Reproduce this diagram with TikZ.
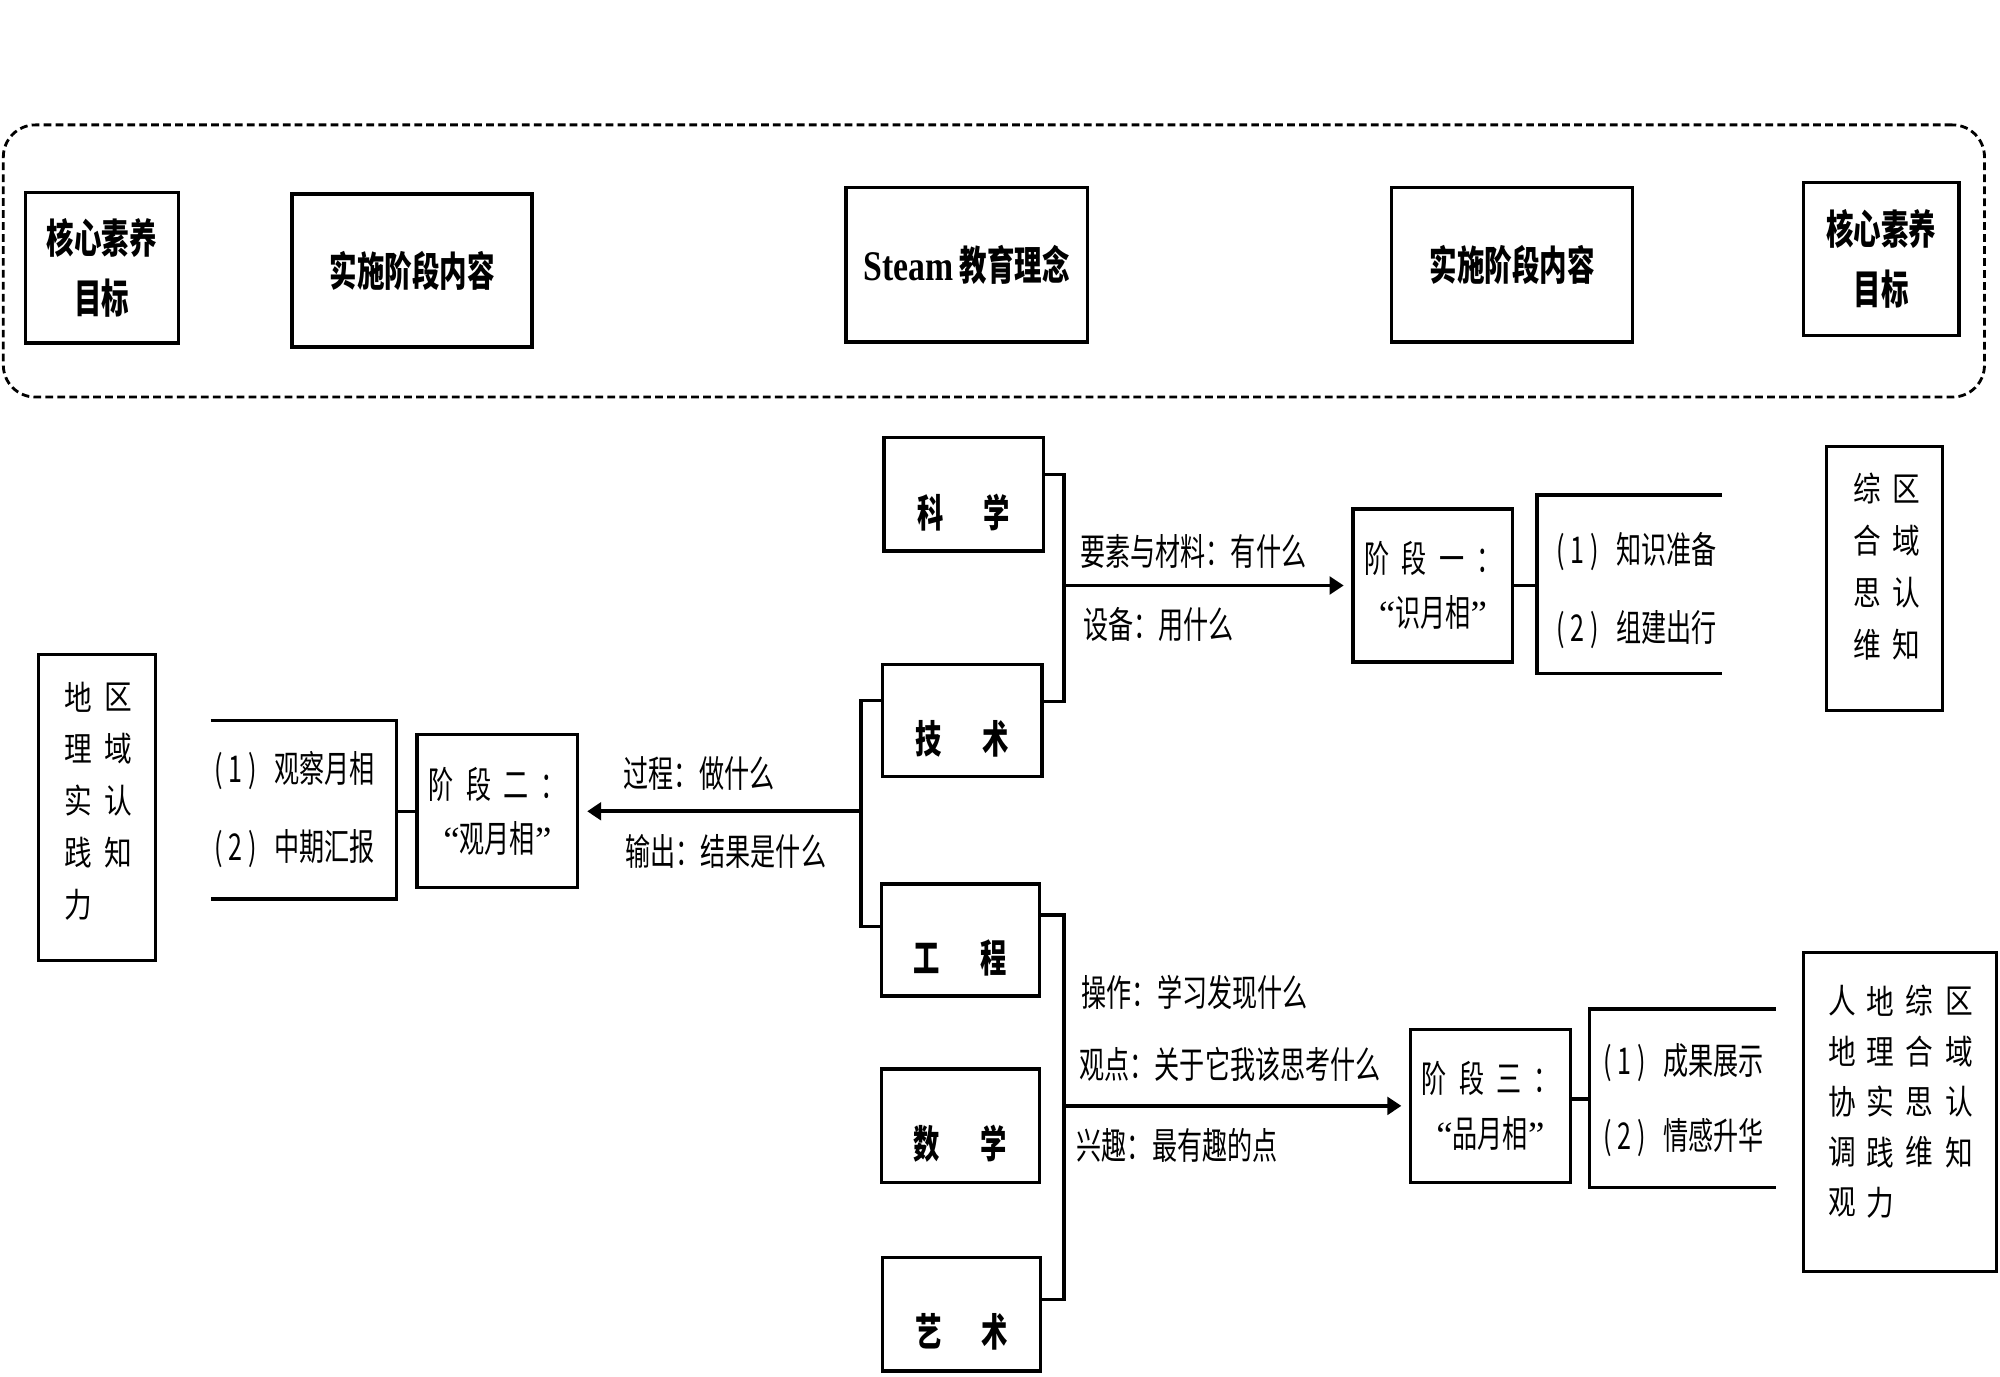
\documentclass[tikz,border=0pt]{standalone}
\usepackage{fontspec}
\newfontfamily\cjk[FakeStretch=0.68]{Noto Sans CJK SC}
\newfontfamily\cjkv[FakeStretch=0.82]{Noto Sans CJK SC}
\newfontfamily\lat{Liberation Serif}
\newfontfamily\latc[FakeStretch=0.8]{Liberation Serif}
\newcommand\itm[1]{(\hspace{1.6pt}#1\hspace{1.6pt})\hspace{5pt}}
\usetikzlibrary{arrows.meta,calc}
\begin{document}
\begin{tikzpicture}[x=0.01cm,y=-0.01cm,
  box/.style={draw,line width=0.9pt,inner sep=0pt,align=center},
  topt/.style={font={\cjk\bfseries\fontsize{11.5pt}{17pt}\selectfont}},
  subj/.style={inner sep=0pt,font={\cjk\bfseries\fontsize{11pt}{13pt}\selectfont}},
  stg/.style={font={\cjk\fontsize{10.5pt}{15.5pt}\selectfont}},
  lbl/.style={anchor=west,inner sep=0pt,font={\cjk\fontsize{10.5pt}{12pt}\selectfont}},
  vch/.style={inner sep=0pt,font={\cjkv\fontsize{9.6pt}{11pt}\selectfont}},
  conn/.style={line width=1pt},
  arr/.style={line width=1.1pt,-{Triangle[length=4pt,width=5pt]},shorten >=2.2pt},
  dashbox/.style={draw,line width=0.8pt,dash pattern=on 2.2pt off 1.2pt,rounded corners=0.32cm,inner sep=0pt}
]
\useasboundingbox (0,0) rectangle (2000,1377);

% top frame
\node[dashbox,minimum width=19.80cm,minimum height=2.72cm] (frame) at (993.9,261) {};
\node[box,topt,minimum width=1.53cm,minimum height=1.504cm] (ga) at (102,267.8) {核心素养\\目标};
\node[box,topt,minimum width=2.40cm,minimum height=1.53cm] (gb) at (412,270.5) {实施阶段内容};
\node[box,topt,minimum width=2.41cm,minimum height=1.545cm] (gc0) at (966.5,264.8) {{\latc\fontsize{12pt}{14pt}\selectfont Steam} 教育理念};
\node[box,topt,minimum width=2.41cm,minimum height=1.545cm] (gd) at (1512,264.8) {实施阶段内容};
\node[box,topt,minimum width=1.554cm,minimum height=1.53cm] (ge) at (1881.3,259) {核心素养\\目标};

% subject boxes
\node[box,minimum width=1.594cm,minimum height=1.135cm] (kx) at (963.7,494.3) {};
\node[box,minimum width=1.594cm,minimum height=1.123cm] (js) at (962.3,720.7) {};
\node[box,minimum width=1.58cm,minimum height=1.12cm] (gc) at (960.5,940) {};
\node[box,minimum width=1.58cm,minimum height=1.134cm] (sx) at (960.5,1125.7) {};
\node[box,minimum width=1.58cm,minimum height=1.134cm] (ys) at (961.7,1314.3) {};
\node[subj] (kxt) at ([yshift=-0.18cm]kx.center) {科\hspace{11.5pt}学};
\node[subj] (jst) at ([yshift=-0.18cm]js.center) {技\hspace{11.5pt}术};
\node[subj] (gct) at ([yshift=-0.18cm]gc.center) {工\hspace{11.5pt}程};
\node[subj] (sxt) at ([yshift=-0.18cm]sx.center) {数\hspace{11.5pt}学};
\node[subj] (yst) at ([yshift=-0.18cm]ys.center) {艺\hspace{11.5pt}术};

% stage boxes
\node[box,stg,minimum width=1.597cm,minimum height=1.53cm] (s1) at (1432.9,585.5) {阶\hspace{3.5pt}段\hspace{3.5pt}一\hspace{3.5pt}：\\{\lat “}识月相{\lat ”}};
\node[box,stg,minimum width=1.608cm,minimum height=1.53cm] (s2) at (497.4,811.3) {阶\hspace{3.5pt}段\hspace{3.5pt}二\hspace{3.5pt}：\\{\lat “}观月相{\lat ”}};
\node[box,stg,minimum width=1.593cm,minimum height=1.53cm] (s3) at (1490.4,1105.9) {阶\hspace{3.5pt}段\hspace{3.5pt}三\hspace{3.5pt}：\\{\lat “}品月相{\lat ”}};

% subject brackets and arrows
\coordinate (b1t) at (1063.8,474.5);
\coordinate (b1b) at (1063.8,701.5);
\draw[conn] (kx.east |- b1t) -- (b1t) -- (b1b) -- (js.east |- b1b);
\draw[arr] (b1t |- s1.west) -- (s1.west);

\coordinate (b2t) at (861,700.7);
\coordinate (b2b) at (861,926.5);
\draw[conn] (js.west |- b2t) -- (b2t) -- (b2b) -- (gc.west |- b2b);
\draw[arr] (b2t |- s2.east) -- (s2.east);

\coordinate (b3t) at (1063.8,915);
\coordinate (b3b) at (1063.8,1299.5);
\draw[conn] (gc.east |- b3t) -- (b3t) -- (b3b) -- (ys.east |- b3b);
\draw[arr] (b3t |- s3.west) -- (s3.west);

% arrow labels
\node[lbl] (la1) at (1079.6,551.5) {要素与材料：有什么};
\node[lbl] (la2) at (1082.5,625) {设备：用什么};
\node[lbl] (la3) at (623,773) {过程：做什么};
\node[lbl] (la4) at (624.6,851.7) {输出：结果是什么};
\node[lbl] (la5) at (1081,992.5) {操作：学习发现什么};
\node[lbl] (la6) at (1078.8,1064) {观点：关于它我该思考什么};
\node[lbl] (la7) at (1076,1145) {兴趣：最有趣的点};

% stage lists
\coordinate (l1t) at (1537,495);
\coordinate (l1b) at (1537,673.5);
\coordinate (l1te) at (1722,495);
\coordinate (l1be) at (1722,673.5);
\draw[conn] (s1.east) -- (s1.east -| l1t);
\draw[conn] (l1te) -- (l1t) -- (l1b) -- (l1be);
\node[lbl] (l1x) at (1556,551.7) {\itm{1}知识准备};
\node[lbl] (l1y) at (1556,630) {\itm{2}组建出行};

\coordinate (l2t) at (396.7,720.7);
\coordinate (l2b) at (396.7,899.2);
\coordinate (l2te) at (210.5,720.7);
\coordinate (l2be) at (210.5,899.2);
\draw[conn] (s2.west) -- (s2.west -| l2t);
\draw[conn] (l2te) -- (l2t) -- (l2b) -- (l2be);
\node[lbl] (l2x) at (214,771) {\itm{1}观察月相};
\node[lbl] (l2y) at (214,848.5) {\itm{2}中期汇报};

\coordinate (l3t) at (1589.3,1009);
\coordinate (l3b) at (1589.3,1187.5);
\coordinate (l3te) at (1775.5,1009);
\coordinate (l3be) at (1775.5,1187.5);
\draw[conn] ([yshift=0.07cm]s3.east) -- ([yshift=0.07cm]s3.east -| l3t);
\draw[conn] (l3te) -- (l3t) -- (l3b) -- (l3be);
\node[lbl] (l3x) at (1603,1062.5) {\itm{1}成果展示};
\node[lbl] (l3y) at (1603,1138) {\itm{2}情感升华};

% competence boxes
\node[box,minimum width=1.173cm,minimum height=3.062cm] (lb) at (97,807.4) {};
\foreach \c [count=\i from 0] in {区,域,认,知} \node[vch] (lba\i) at (118.5,{697+52*\i}) {\c};
\foreach \c [count=\i from 0] in {地,理,实,践,力} \node[vch] (lbb\i) at (78.5,{697+52*\i}) {\c};

\node[box,minimum width=1.16cm,minimum height=2.64cm] (r1) at (1884.5,578.5) {};
\foreach \c [count=\i from 0] in {区,域,认,知} \node[vch] (r1a\i) at (1906,{489+52*\i}) {\c};
\foreach \c [count=\i from 0] in {综,合,思,维} \node[vch] (r1b\i) at (1867,{489+52*\i}) {\c};

\node[box,minimum width=1.924cm,minimum height=3.19cm] (r2) at (1899.8,1112.2) {};
\foreach \c [count=\i from 0] in {区,域,认,知} \node[vch] (r2a\i) at (1959,{1001+50.4*\i}) {\c};
\foreach \c [count=\i from 0] in {综,合,思,维} \node[vch] (r2b\i) at (1919,{1001+50.4*\i}) {\c};
\foreach \c [count=\i from 0] in {地,理,实,践,力} \node[vch] (r2c\i) at (1880,{1001+50.4*\i}) {\c};
\foreach \c [count=\i from 0] in {人,地,协,调,观} \node[vch] (r2d\i) at (1842,{1001+50.4*\i}) {\c};
\end{tikzpicture}
\end{document}
